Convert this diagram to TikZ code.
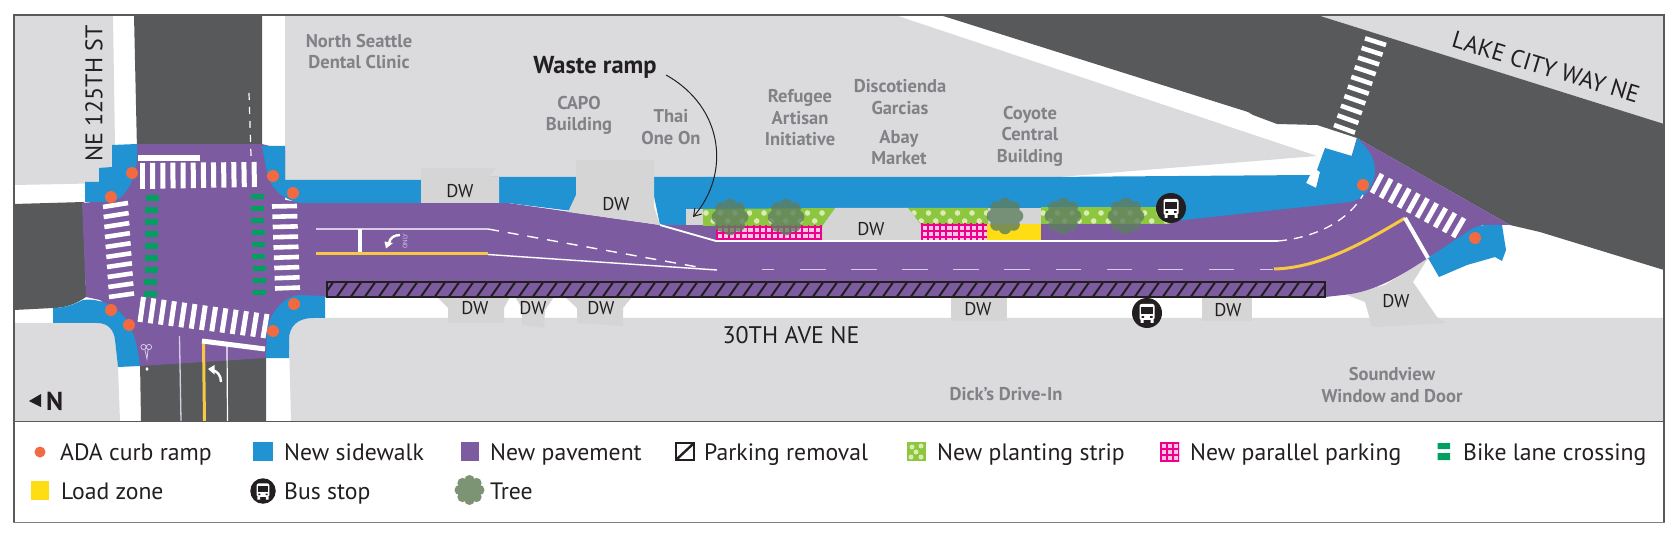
\documentclass[tikz,border=0pt]{standalone}
\usepackage{fontspec}
\setmainfont{PT Sans}
\usetikzlibrary{calc,arrows.meta}
\definecolor{roadc}{HTML}{58595B}
\definecolor{lotc}{HTML}{DBDADD}
\definecolor{purp}{HTML}{7C5BA1}
\definecolor{bluec}{HTML}{2192D2}
\definecolor{oran}{HTML}{F16A42}
\definecolor{dwc}{HTML}{D5D5D5}
\definecolor{bikeg}{HTML}{00A160}
\definecolor{yel}{HTML}{FFDD15}
\definecolor{lineyel}{HTML}{F7C942}
\definecolor{magc}{HTML}{EC008C}
\definecolor{pale}{HTML}{FFC4E2}
\definecolor{limec}{HTML}{8DC63F}
\definecolor{dotc}{HTML}{DCEBB4}
\definecolor{lilac}{HTML}{D9CCE6}
\definecolor{inkc}{HTML}{231F20}
\definecolor{labc}{HTML}{808285}
\definecolor{treec}{HTML}{5F7F60}
\definecolor{treel}{HTML}{7D9474}
\definecolor{framec}{HTML}{58595B}
\tikzset{
  lab/.style={text=labc,font=\fontsize{18.5}{21.5}\selectfont\bfseries,align=center,inner sep=0pt},
  dwlab/.style={text=inkc,font=\fontsize{18.5}{20}\selectfont,inner sep=0pt},
  streetlab/.style={text=inkc,font=\fontsize{24}{26}\selectfont,inner sep=0pt},
  leg/.style={text=inkc,font=\fontsize{23.7}{26}\selectfont,anchor=base west,inner sep=0pt},
  rampdot/.style={fill=oran},
  xwalk/.style={white,line width=5pt},
}
\newcommand\rdot[2]{\fill[rampdot] (#1,#2) circle[radius=6];}
\newcommand\treeblob[3]{%
  \begin{scope}[shift={(#1,#2)}]
  \fill[#3] (0,0) circle[radius=13]
    (12,0) circle[radius=6.3] (8.5,8.5) circle[radius=6.3] (0,12) circle[radius=6.3] (-8.5,8.5) circle[radius=6.3]
    (-12,0) circle[radius=6.3] (-8.5,-8.5) circle[radius=6.3] (0,-12) circle[radius=6.3] (8.5,-8.5) circle[radius=6.3];
  \end{scope}}
\newcommand\busicon[3]{%
  \begin{scope}[shift={(#1,#2)},scale=#3]
  \fill[inkc] (0,0) circle[radius=15];
  \fill[white,rounded corners=2pt] (-7.5,-9) rectangle (7.5,7);
  \fill[white] (-6.5,7) rectangle (-3.5,10) (3.5,7) rectangle (6.5,10);
  \fill[inkc] (-6,-6) rectangle (6,1);
  \fill[inkc] (-5.5,3.2) rectangle (-3,4.8) (3,3.2) rectangle (5.5,4.8);
  \end{scope}}
\newcommand\grid[4]{%
  \begin{scope}
  \clip (#1,#2) rectangle (#3,#4);
  \fill[pale] (#1,#2) rectangle (#3,#4);
  \foreach \k in {0,...,20}{
    \draw[magc,line width=1.9pt] ($(#1,#2)+(\k*6.1+1,-5)$) -- ($(#1,#4)+(\k*6.1+1,5)$);}
  \foreach \k in {0,...,4}{
    \draw[magc,line width=1.9pt] ($(#1,#2)+(-5,\k*6.1+1)$) -- ($(#3,#2)+(5,\k*6.1+1)$);}
  \end{scope}}
\newcommand\plantdots[3]{%
  \foreach \k in {0,...,#3}{
    \fill[dotc] ($(#1,#2)+(\k*14.5,5)$) circle[radius=2.8];
    \fill[dotc] ($(#1,#2)+(\k*14.5+7.2,13)$) circle[radius=2.8];}}
\begin{document}
\begin{tikzpicture}[x=1pt,y=-1pt,line join=miter]
\useasboundingbox (0,0) rectangle (1676,537);
\fill[white] (0,0) rectangle (1676,537);
% ground
\fill[lotc] (14,15) -- (113,15) -- (115,146) -- (115,183) -- (14,185) -- cycle;
\fill[lotc] (285,15) -- (895,15) -- (1317,156) -- (1047,178) -- (285,182) -- cycle;
\fill[lotc] (1317,15) -- (1664,15) -- (1664,124) -- cycle;
\fill[lotc] (14,323) -- (97,323) .. controls (108,323) and (114,330) .. (115,340) -- (118,367) -- (120,421) -- (14,421) -- cycle;
\fill[lotc] (291,421) -- (289,340) .. controls (289,326) and (298,318) .. (313,318) -- (1664,318) -- (1664,421) -- cycle;
% roads
\fill[roadc] (134,15) -- (262,15) -- (262,150) -- (137,150) -- cycle;
\fill[roadc] (14,204) -- (84,202) -- (86,297) .. controls (76,304) and (65,308) .. (53,308) -- (14,310) -- cycle;
\fill[roadc] (140,362) -- (266,354) -- (266,421) -- (141,421) -- cycle;
\fill[roadc] (940,15) -- (1248,112) -- (1253,115) -- (1277,124) -- (1317,125) -- (1357,138) -- (1510,225) -- (1540,232) -- (1664,270) -- (1664,124) -- (1317,15) -- cycle;
% driveways
\fill[dwc] (437,297) -- (448,308) -- (448,323) -- (504,323) -- (504,308) -- (510,297) -- cycle;
\fill[dwc] (515,297) -- (522,308) -- (522,325) -- (544,328) -- (545,310) -- (554,297) -- cycle;
\fill[dwc] (565,297) -- (577,308) -- (577,323) -- (623,326) -- (623,308) -- (632,297) -- cycle;
\fill[dwc] (951,297) rectangle (1007,321);
\fill[dwc] (1202,297) rectangle (1252,321);
\fill[dwc] (1347,295) -- (1365,302) -- (1372,327) -- (1446,323) -- (1437,317) -- (1413,282) -- (1428,258) -- (1385,285) -- cycle;
% pavement
\fill[purp] (137,144) -- (262,144) -- (285,150) -- (285,200) -- (310,203) -- (508,203) -- (660,225) -- (1165,218) -- (1340,195) -- (1357,138) -- (1510,225) -- (1482,225) -- (1428,258)
  .. controls (1400,276) and (1375,292) .. (1343,295) -- (1325,297) -- (327,297) -- (300,300) -- (270,320) -- (266,358) -- (140,366) -- (125,320) -- (100,300) -- (86,297) -- (82,203) -- (115,200) -- cycle;
% sidewalks
\fill[bluec] (112,145) -- (137,144) .. controls (138,165) and (135,182) .. (123,195) .. controls (118,201) and (112,202) .. (107,202) -- (85,202) -- (85,182) -- (99,182) -- (99,168) -- (112,167) -- cycle;
\fill[bluec] (262,146) -- (285,146) -- (285,180) -- (430,180) -- (430,203) -- (300,203) .. controls (285,200) and (270,190) .. (267,172) -- cycle;
\fill[bluec] (53,308) .. controls (65,308) and (75,304) .. (83,300) .. controls (100,298) and (112,305) .. (123,315) .. controls (132,325) and (138,345) .. (140,366) -- (118,367) -- (115,340) .. controls (114,330) and (108,323) .. (97,323) -- (53,323) -- cycle;
\fill[bluec] (325,296) -- (325,318) -- (313,318) .. controls (298,318) and (289,326) .. (289,340) -- (289,358) -- (266,358) -- (267,330) .. controls (270,312) and (285,295) .. (300,295) -- cycle;
\fill[bluec] (490,177) -- (580,177) -- (580,212) -- (508,203) -- (490,203) -- cycle;
\fill[bluec] (650,177) -- (1047,177) -- (1310,175) -- (1306,183) -- (1316,188) -- (1320,172) -- (1317,170) -- (1325,148) -- (1352,156) -- (1357,138)
  .. controls (1368,148) and (1375,158) .. (1375,170) .. controls (1375,188) and (1362,200) .. (1350,202) -- (1165,222) -- (1165,225) -- (660,225) -- cycle;
\fill[bluec] (1428,258) -- (1470,230) .. controls (1476,226) and (1482,225) .. (1488,225) -- (1502,225) -- (1506,250) -- (1502,261) -- (1495,257) -- (1467,265) -- (1439,277) -- cycle;
% north-side driveways and ramp
\fill[dwc] (421,168) -- (496,168) -- (489,177) -- (499,177) -- (499,203) -- (421,203) -- cycle;
\fill[dwc] (576,160) -- (654,160) -- (654,207) -- (660,225) -- (568,212) -- (576,195) -- cycle;
\fill[dwc] (686,209) rectangle (703,225);
\fill[dwc] (822,226) -- (835,208) -- (909,208) -- (921,225) -- (921,241) -- (822,241) -- cycle;
\fill[dwc] (987,208) rectangle (1041,224);
% planting strips
\begin{scope}
\clip (703,209) -- (835,208) -- (822,226) -- (703,226) -- cycle;
\fill[limec] (703,200) rectangle (840,230);
\plantdots{706}{208}{9}
\end{scope}
\begin{scope}
\clip (908,208) -- (988,208) -- (988,224) -- (921,224) -- cycle;
\fill[limec] (900,200) rectangle (990,230);
\plantdots{914}{208}{5}
\end{scope}
\begin{scope}
\clip (1041,208) -- (1170,208) -- (1170,224) -- (1041,224) -- cycle;
\fill[limec] (1040,200) rectangle (1170,230);
\plantdots{1043}{208}{8}
\end{scope}
\fill[purp] (1041,224) rectangle (1165,226);
% parallel parking and load zone
\grid{716}{226}{822}{241}
\grid{921}{224}{987}{241}
\fill[yel] (987,224) rectangle (1041,241);
% parking removal
\begin{scope}
\clip (327,282) rectangle (1325,297);
\foreach \k in {0,...,72}{
  \draw[inkc,line width=2pt] ($(322,298)+(\k*14,0)$) -- ($(334,281)+(\k*14,0)$);}
\end{scope}
\draw[inkc,line width=2.8pt] (327,282) rectangle (1325,297);
% markings
\draw[lilac,line width=1.6pt] (316,229) -- (488,229);
\draw[white,line width=1.4pt,dash pattern=on 11pt off 9pt] (488,229) -- (703,268);
\draw[white,line width=4.5pt] (360,229) -- (360,254);
\draw[lineyel,line width=3pt] (316,254) -- (488,254);
\draw[white,line width=1.4pt] (488,254.5) -- (717,270);
\draw[white,line width=1.8pt] (660,225) -- (716,241) -- (1278,241);
\draw[white,line width=1.3pt,dash pattern=on 9pt off 7pt] (1278,241) .. controls (1310,238) and (1345,225) .. (1363,195);
\foreach \a/\b in {762/774,800/826,851/877,902/928,953/979,1004/1030,1056/1081,1107/1132,1158/1183,1209/1234,1260/1273}{
  \draw[lilac,line width=1.6pt] (\a,269.5) -- (\b,269.5);}
\draw[lineyel,line width=3pt] (1274,269) .. controls (1320,268) and (1365,242) .. (1405,218);
\draw[white,line width=4pt] (1405,218) -- (1428,258);
\draw[white,line width=1.2pt,dash pattern=on 7pt off 7pt] (249,93) -- (251,156);
\draw[lilac,line width=1.3pt] (179.5,336) -- (181,421);
\draw[lineyel,line width=3pt] (203.5,343) -- (204.5,421);
\draw[white,line width=1.2pt] (227,346) -- (227.5,421);
\draw[white,line width=5pt] (202,341) -- (265,349);
\draw[white,line width=5.5pt] (138,158) -- (200,158);
% turn arrows
\draw[white,line width=2.4pt] (400,235) .. controls (394,235) and (390,238) .. (389,243);
\fill[white] (384.5,241.5) -- (393,243) -- (386,248.5) -- cycle;
\draw[white,line width=2.4pt] (221,382) .. controls (221,375) and (217,371) .. (212,370);
\fill[white] (208,369) -- (214.5,365) -- (214.5,374.5) -- cycle;
\node[rotate=90,text=lilac,font=\fontsize{6.5}{7}\selectfont,inner sep=0pt] (onlytext) at (405,241) {ONLY};
% bicycle symbol
\draw[lilac,line width=.8pt] (143.5,347) circle[radius=2.6] (149,347) circle[radius=2.6] (145,350) -- (147,359) -- (148,350);
\fill[white] (147,367) -- (148.6,369) -- (147,371) -- (145.4,369) -- cycle;
% crosswalks
\foreach \k in {0,...,11}{
  \draw[xwalk] ($(142.5,163)!\k/11!(254,162)$) -- ($(142.5,189)!\k/11!(254.5,187)$);}
\foreach \k in {0,...,8}{
  \draw[xwalk,line width=4.6pt] ($(272,206.5)!\k/8!(275,288.5)$) -- ($(297,206)!\k/8!(300,287.5)$);}
\foreach \k in {0,...,9}{
  \draw[xwalk,line width=4.6pt] ($(103,207)!\k/9!(109,297)$) -- ($(128,203)!\k/9!(134,293.5)$);}
\foreach \k in {0,...,12}{
  \draw[xwalk] ($(143.5,297)!\k/12!(267,314)$) -- ($(140,322)!\k/12!(263,338)$);}
\foreach \k in {0,...,9}{
  \draw[xwalk,line width=4.6pt] ($(1365,38.3)!\k/9!(1334,125)$) -- ($(1386,45)!\k/9!(1355,132.7)$);}
\foreach \k in {0,...,9}{
  \draw[xwalk] ($(1382,174)!\k/9!(1464,218)$) -- ($(1372,193)!\k/9!(1453,237)$);}
% bike crossings
\foreach \k in {0,...,8}{
  \fill[bikeg] ($(145.5,195.5)+(-0.15*\k,\k*12)$) rectangle +(13,5.5);
  \fill[bikeg] ($(250.5,194)+(0.35*\k,\k*12)$) rectangle +(13,5.5);}
% curb ramps
\rdot{132}{173}\rdot{111}{197}\rdot{273}{176}\rdot{293}{193}\rdot{111}{310}\rdot{129}{325}\rdot{294}{304}\rdot{273}{331}\rdot{1363}{185}\rdot{1475}{238}
% trees
\foreach \tx/\ty in {730/217,786/217,1005/216,1063/216,1126/216}{
  \treeblob{\tx}{\ty}{treec,opacity=.8}}
% bus stops
\busicon{1171}{208}{1}
\busicon{1147}{313}{1}
% frame
\draw[framec,line width=1.2pt] (14,15) rectangle (1664,421.5);
\draw[framec,line width=1.2pt] (14,421.5) -- (14,522.5);
\draw[framec,line width=1.2pt] (1664,421.5) -- (1664,522.5);
\draw[gray,line width=1.8pt] (13.4,522.5) -- (1664.6,522.5);
% north arrow
\fill[inkc] (29,401) -- (41,394) -- (41,407) -- cycle;
\node[text=inkc,font=\fontsize{26}{26}\selectfont\bfseries,anchor=base west,inner sep=0pt] (northlab) at (46,410) {N};
% labels
\node[lab] (dental) at (359,51.5) {North Seattle\\Dental Clinic};
\node[lab] (capo) at (579,115.5) {CAPO\\Building};
\node[lab] (thai) at (671,127) {Thai\\One On};
\node[lab] (refugee) at (800,118) {Refugee\\Artisan\\Initiative};
\node[lab] (disco) at (900,97) {Discotienda\\Garcias};
\node[lab] (abay) at (899,147.5) {Abay\\Market};
\node[lab] (coyote) at (1030,136) {Coyote\\Central\\Building};
\node[lab] (dicks) at (1006,394) {Dick’s Drive-In};
\node[lab] (soundview) at (1392,385) {Soundview\\Window and Door};
\node[text=inkc,font=\fontsize{24.5}{26}\selectfont\bfseries,inner sep=0pt] (waste) at (595,67) {Waste ramp};
\coordinate (wastestart) at (666,75);
\coordinate (wasteend) at (693,217);
\draw[inkc,line width=1pt,-{Straight Barb[length=7pt,width=9pt]}] (wastestart) .. controls (725,108) and (730,175) .. (wasteend);
\node[streetlab] (ave) at (791,335) {30TH AVE NE};
\node[streetlab,rotate=90] (ne125) at (94,93.5) {NE 125TH ST};
\node[streetlab,rotate=-17] (lake) at (1546,67) {LAKE CITY WAY NE};
\foreach \nm/\x/\y in {a/460/191,b/616/204,c/871/229,d/475/308,e/533/308,f/601/308,g/978/309,h/1228/310,i/1396/301}{
  \node[dwlab] (dw\nm) at (\x,\y) {DW};}
% legend
\fill[oran] (40,452) circle[radius=5.5];
\node[leg] (l1) at (60,460) {ADA curb ramp};
\fill[bluec] (253,442) rectangle (273,461);
\node[leg] (l2) at (284,460) {New sidewalk};
\fill[purp] (461,442) rectangle (479,461);
\node[leg] (l3) at (490,460) {New pavement};
\begin{scope}
\clip (675,442) rectangle (695,461);
\draw[inkc,line width=2.4pt] (677,459) -- (693,444);
\end{scope}
\draw[inkc,line width=2.4pt] (676,443) rectangle (694,460);
\node[leg] (l4) at (704,460) {Parking removal};
\begin{scope}
\clip (907,442) rectangle (926,461);
\fill[limec] (907,442) rectangle (926,461);
\fill[dotc] (912,447) circle[radius=2.5] (921,446) circle[radius=2.5] (916,452) circle[radius=2.5] (911,457) circle[radius=2.5] (921,457) circle[radius=2.5];
\end{scope}
\node[leg] (l5) at (937,460) {New planting strip};
\grid{1160}{442}{1179}{461}
\node[leg] (l6) at (1190,460) {New parallel parking};
\fill[bikeg] (1437.5,443) rectangle (1450,449) (1437.5,453) rectangle (1450,460);
\node[leg] (l7) at (1463,460) {Bike lane crossing};
\fill[yel] (31,481) rectangle (49,500);
\node[leg] (l8) at (61,499) {Load zone};
\busicon{263}{491}{.85}
\node[leg] (l9) at (284,499) {Bus stop};
\begin{scope}[shift={(469.5,490)},scale=.82]
\treeblob{0}{0}{treel}
\end{scope}
\node[leg] (l10) at (490,499) {Tree};
\end{tikzpicture}
\end{document}
